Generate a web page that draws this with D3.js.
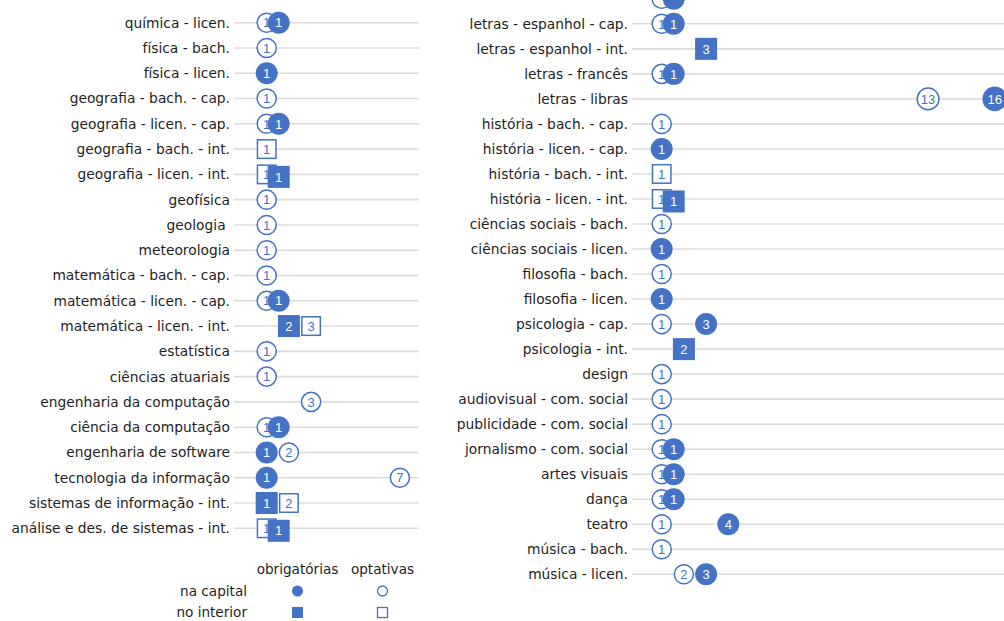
<!DOCTYPE html>
<html>
<head>
<meta charset="utf-8">
<script src="https://cdn.jsdelivr.net/npm/d3@7"></script>
<style>
  html, body { margin: 0; padding: 0; background: #fff; }
  svg { display: block; }
  .axis text { font-family: "DejaVu Sans", sans-serif; font-size: 13.8px; fill: #1e1e1e; white-space: pre; }
  .grid line { stroke: #dcdcdc; stroke-width: 1.6; }
  .num { font-family: "Liberation Sans", Arial, sans-serif; font-size: 13px; text-anchor: middle; }
  .legend text { font-family: "DejaVu Sans", sans-serif; font-size: 13.6px; fill: #1e1e1e; }
</style>
</head>
<body>
<script>
const blue = '#4472c4';

// left panel
const leftCategories = [
  'química - licen.', 'física - bach.', 'física - licen.', 'geografia - bach. - cap.',
  'geografia - licen. - cap.', 'geografia - bach. - int.', 'geografia - licen. - int.',
  'geofísica', 'geologia ', 'meteorologia', 'matemática - bach. - cap.',
  'matemática - licen. - cap.', 'matemática - licen. - int.', 'estatística',
  'ciências atuariais', 'engenharia da computação', 'ciência da computação',
  'engenharia de software', 'tecnologia da informação', 'sistemas de informação - int.',
  'análise e des. de sistemas - int.'
];
const leftLocal = ['cap', 'cap', 'cap', 'cap', 'cap', 'int', 'int', 'cap', 'cap', 'cap', 'cap',
  'cap', 'int', 'cap', 'cap', 'cap', 'cap', 'cap', 'cap', 'int', 'int'];
const leftObrigatorias = [1, null, 1, null, 1, null, 1, null, null, null, null,
  1, 2, null, null, null, 1, 1, 1, 1, 1];
const leftOptativas = [1, 1, null, 1, 1, 1, 1, 1, 1, 1, 1,
  1, 3, 1, 1, 3, 1, 2, 7, 2, 1];

// right panel (first row is cut off at the top of the picture)
const rightCategories = [
  '', 'letras - espanhol - cap.', 'letras - espanhol - int.', 'letras - francês',
  'letras - libras', 'história - bach. - cap.', 'história - licen. - cap.',
  'história - bach. - int.', 'história - licen. - int.', 'ciências sociais - bach.',
  'ciências sociais - licen.', 'filosofia - bach.', 'filosofia - licen.',
  'psicologia - cap.', 'psicologia - int.', 'design', 'audiovisual - com. social',
  'publicidade - com. social', 'jornalismo - com. social', 'artes visuais', 'dança',
  'teatro', 'música - bach.', 'música - licen.'
];
const rightLocal = ['cap', 'cap', 'int', 'cap', 'cap', 'cap', 'cap', 'int', 'int', 'cap',
  'cap', 'cap', 'cap', 'cap', 'int', 'cap', 'cap', 'cap', 'cap', 'cap', 'cap', 'cap', 'cap', 'cap'];
const rightObrigatorias = [1, 1, 3, 1, 16, null, 1, null, 1, null, 1, null, 1,
  3, 2, null, null, null, 1, 1, 1, 4, null, 3];
const rightOptativas = [1, 1, null, 1, 13, 1, null, 1, 1, 1, null, 1, null,
  1, null, 1, 1, 1, 1, 1, 1, 1, 1, 2];

const legendCols = ['obrigatórias', 'optativas'];
const legendRows = ['na capital', 'no interior'];

const width = 1004, height = 621;
const svg = d3.select('body').append('svg')
    .attr('width', width)
    .attr('height', height);

function panel(cfg) {
  const y = d3.scalePoint().domain(cfg.categories).range(cfg.yRange);
  const x = d3.scaleLinear().domain([0, cfg.max]).range(cfg.xRange);

  const rows = cfg.categories.map((c, i) => ({
    cat: c, local: cfg.local[i], obr: cfg.obr[i], opt: cfg.opt[i]
  }));

  const g = svg.append('g');

  g.append('g').attr('class', 'grid')
    .selectAll('line').data(rows)
    .join('line')
      .attr('x1', cfg.lineStart)
      .attr('x2', cfg.lineEnd)
      .attr('y1', (d) => y(d.cat))
      .attr('y2', (d) => y(d.cat));

  g.append('g').attr('class', 'axis')
      .attr('transform', `translate(${cfg.lineStart},0)`)
      .call(d3.axisLeft(y).tickSize(0).tickPadding(4))
      .call((a) => a.select('.domain').remove());

  const marks = [];
  rows.forEach((d) => {
    if (d.opt != null) marks.push({ cat: d.cat, local: d.local, v: d.opt, filled: false, dx: 0, dy: 0 });
  });
  rows.forEach((d) => {
    if (d.obr != null) {
      const same = d.opt === d.obr;
      marks.push({
        cat: d.cat, local: d.local, v: d.obr, filled: true,
        dx: same ? 12 : 0, dy: same && d.local === 'int' ? 2.5 : 0
      });
    }
  });

  const m = g.append('g').selectAll('g').data(marks)
    .join('g')
      .attr('transform', (d) => `translate(${x(d.v) + d.dx},${y(d.cat) + d.dy})`);

  const rad = (d) => (d.filled ? 11 : 10.3) + (d.v >= 10 ? 1.3 : 0);

  m.filter((d) => d.local === 'cap').append('circle')
      .attr('r', (d) => d.filled ? rad(d) : rad(d) - 0.75)
      .attr('fill', (d) => d.filled ? blue : '#fff')
      .attr('stroke', (d) => d.filled ? 'none' : blue)
      .attr('stroke-width', 1.5);

  m.filter((d) => d.local === 'int').append('rect')
      .attr('x', (d) => d.filled ? -11 : -9.25)
      .attr('y', (d) => d.filled ? -11 : -9.25)
      .attr('width', (d) => d.filled ? 22 : 18.5)
      .attr('height', (d) => d.filled ? 22 : 18.5)
      .attr('fill', (d) => d.filled ? blue : '#fff')
      .attr('stroke', (d) => d.filled ? 'none' : blue)
      .attr('stroke-width', 1.5);

  // the row cut by the top edge shows only the bottom of its markers
  m.filter((d) => y(d.cat) > 0).append('text')
      .attr('class', 'num')
      .attr('dy', '0.36em')
      .attr('fill', (d) => d.filled ? '#fff' : blue)
      .text((d) => d.v);
}

panel({
  categories: leftCategories, local: leftLocal, obr: leftObrigatorias, opt: leftOptativas,
  max: 7, xRange: [244.5, 399.9], yRange: [22.7, 528.3], lineStart: 234, lineEnd: 419
});

panel({
  categories: rightCategories, local: rightLocal, obr: rightObrigatorias, opt: rightOptativas,
  max: 16, xRange: [639.5, 994.7], yRange: [-1.2, 574.3], lineStart: 632, lineEnd: 1010
});

// legend
const lx = d3.scalePoint().domain(legendCols).range([297.5, 382.5]);
const ly = d3.scalePoint().domain(legendRows).range([591, 612.5]);
const legend = svg.append('g').attr('class', 'legend');

legend.selectAll('.col').data(legendCols)
  .join('text')
    .attr('class', 'col')
    .attr('x', (d) => lx(d))
    .attr('y', 569)
    .attr('dy', '0.35em')
    .attr('text-anchor', 'middle')
    .text((d) => d);

legend.selectAll('.row').data(legendRows)
  .join('text')
    .attr('class', 'row')
    .attr('x', 247)
    .attr('y', (d) => ly(d))
    .attr('dy', '0.35em')
    .attr('text-anchor', 'end')
    .text((d) => d);

const keys = d3.cross(legendCols, legendRows, (c, r) => ({ c, r }));
keys.forEach((k) => {
  const filled = k.c === legendCols[0];
  const sel = k.r === legendRows[0]
    ? legend.append('circle').attr('cx', lx(k.c)).attr('cy', ly(k.r)).attr('r', filled ? 5.5 : 5)
    : legend.append('rect').attr('x', lx(k.c) - (filled ? 5.5 : 5)).attr('y', ly(k.r) - (filled ? 5.5 : 5))
        .attr('width', filled ? 11 : 10).attr('height', filled ? 11 : 10);
  sel.attr('fill', filled ? blue : '#fff')
     .attr('stroke', filled ? 'none' : blue)
     .attr('stroke-width', 1.3);
});
</script>
</body>
</html>
